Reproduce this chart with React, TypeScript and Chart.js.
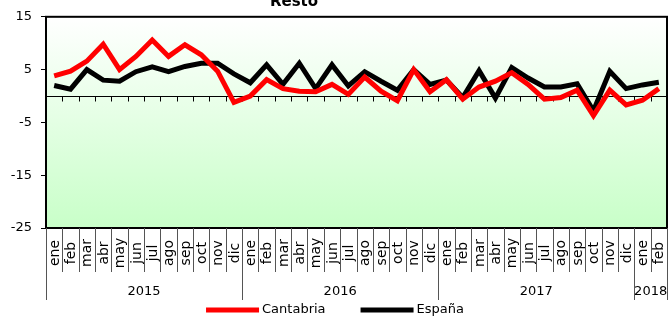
import React, { useEffect, useRef } from "react";
import { Chart, registerables } from "chart.js";

Chart.register(...registerables);

const monthLabels = [
  "ene","feb","mar","abr","may","jun","jul","ago","sep","oct","nov","dic",
  "ene","feb","mar","abr","may","jun","jul","ago","sep","oct","nov","dic",
  "ene","feb","mar","abr","may","jun","jul","ago","sep","oct","nov","dic",
  "ene","feb",
];
const yearLabels = ["2015", "2016", "2017", "2018"];
const yearCounts = [12, 12, 12, 2];

const cantabria = [
  3.8, 4.7, 6.6, 9.8, 5.0, 7.5, 10.6, 7.5, 9.7, 7.8, 4.7, -1.2,
  0.0, 3.1, 1.4, 0.9, 0.8, 2.2, 0.3, 3.6, 0.9, -0.9, 5.0, 0.8,
  3.1, -0.6, 1.7, 2.8, 4.4, 2.2, -0.6, -0.3, 1.1, -3.7, 1.1, -1.7,
  -0.8, 1.4,
];
const espana = [
  2.0, 1.3, 5.0, 3.0, 2.8, 4.6, 5.5, 4.6, 5.6, 6.2, 6.2, 4.2,
  2.5, 5.9, 2.2, 6.2, 1.4, 5.9, 1.9, 4.6, 2.8, 1.1, 5.0, 2.2,
  3.0, -0.3, 4.8, -0.4, 5.4, 3.4, 1.7, 1.7, 2.3, -2.8, 4.7, 1.4,
  2.1, 2.6,
];
const yTicks = [-25, -15, -5, 5, 15];
const seriesNames = ["Cantabria", "España"];
const seriesColors = ["#ff0000", "#000000"];
const titleText = "Resto";

const FONT = "'DejaVu Sans', sans-serif";

const decorPlugin = {
  id: "decor",
  beforeDatasetsDraw(chart: any) {
    const { ctx, chartArea } = chart;
    const { left, right, top, bottom } = chartArea;
    const g = ctx.createLinearGradient(0, top, 0, bottom);
    g.addColorStop(0, "#ffffff");
    g.addColorStop(1, "#c8ffc8");
    ctx.save();
    ctx.fillStyle = g;
    ctx.fillRect(left, top, right - left, bottom - top);
    // zero line with ticks
    const ys = chart.scales.y;
    const xs = chart.scales.x;
    const y0 = Math.round(ys.getPixelForValue(0)) + 0.5;
    ctx.strokeStyle = "#000";
    ctx.lineWidth = 1;
    ctx.beginPath();
    ctx.moveTo(left, y0);
    ctx.lineTo(right, y0);
    const step = xs.getPixelForValue(1) - xs.getPixelForValue(0);
    for (let i = 1; i < monthLabels.length; i++) {
      const bx = Math.round(xs.getPixelForValue(i) - step / 2) + 0.5;
      ctx.moveTo(bx, y0);
      ctx.lineTo(bx, y0 + 5);
    }
    ctx.stroke();
    ctx.restore();
  },
  afterDatasetsDraw(chart: any) {
    const { ctx, chartArea } = chart;
    const { left, right, top, bottom } = chartArea;
    ctx.save();
    ctx.strokeStyle = "#000";
    ctx.lineWidth = 2;
    ctx.strokeRect(left, top, right - left, bottom - top);
    ctx.restore();
  },
  afterDraw(chart: any) {
    const { ctx, chartArea } = chart;
    const { bottom } = chartArea;
    const xs = chart.scales.x;
    const step = xs.getPixelForValue(1) - xs.getPixelForValue(0);
    ctx.save();
    // month labels
    ctx.fillStyle = "#000";
    ctx.font = `14px ${FONT}`;
    ctx.textAlign = "center";
    ctx.textBaseline = "middle";
    monthLabels.forEach((m, i) => {
      const cx = xs.getPixelForValue(i);
      ctx.save();
      ctx.translate(cx + 1, 253);
      ctx.rotate(-Math.PI / 2);
      ctx.fillText(m, 0, 0);
      ctx.restore();
    });
    // separators
    const yearBounds = new Set<number>();
    let acc = 0;
    yearBounds.add(0);
    yearCounts.forEach((c) => {
      acc += c;
      yearBounds.add(acc);
    });
    ctx.strokeStyle = "#555";
    ctx.lineWidth = 1;
    ctx.beginPath();
    for (let b = 0; b <= monthLabels.length; b++) {
      const bx = Math.round(xs.getPixelForValue(b) - step / 2) + 0.5;
      ctx.moveTo(bx, bottom);
      ctx.lineTo(bx, yearBounds.has(b) ? 300 : 272);
    }
    ctx.stroke();
    // year labels
    ctx.font = `13px ${FONT}`;
    acc = 0;
    yearLabels.forEach((yl, k) => {
      const start = acc;
      const end = acc + yearCounts[k] - 1;
      acc += yearCounts[k];
      const cx = (xs.getPixelForValue(start) + xs.getPixelForValue(end)) / 2;
      ctx.fillText(yl, cx, 292);
    });
    // title
    ctx.font = `bold 15px ${FONT}`;
    ctx.textBaseline = "alphabetic";
    ctx.fillText(titleText, 294, 6);
    // legend
    ctx.font = `13px ${FONT}`;
    ctx.textBaseline = "middle";
    ctx.textAlign = "left";
    const sample = 53;
    const gap = 3;
    const itemGap = 35;
    const widths = seriesNames.map((n) => sample + gap + ctx.measureText(n).width);
    const total = widths.reduce((a, b) => a + b, 0) + itemGap * (widths.length - 1);
    let lx = 335 - total / 2;
    const ly = 310;
    seriesNames.forEach((n, i) => {
      ctx.strokeStyle = seriesColors[i];
      ctx.lineWidth = 5;
      ctx.beginPath();
      ctx.moveTo(lx, ly);
      ctx.lineTo(lx + sample, ly);
      ctx.stroke();
      ctx.fillStyle = "#000";
      ctx.fillText(n, lx + sample + gap, ly);
      lx += widths[i] + itemGap;
    });
    ctx.restore();
  },
};

export default function App() {
  const ref = useRef<HTMLCanvasElement | null>(null);
  useEffect(() => {
    if (!ref.current) return;
    const chart = new Chart(ref.current, {
      type: "line",
      data: {
        labels: monthLabels,
        datasets: [
          {
            label: seriesNames[0],
            data: cantabria,
            borderColor: seriesColors[0],
            backgroundColor: seriesColors[0],
            borderWidth: 5,
            pointRadius: 0,
            tension: 0,
          },
          {
            label: seriesNames[1],
            data: espana,
            borderColor: seriesColors[1],
            backgroundColor: seriesColors[1],
            borderWidth: 5,
            pointRadius: 0,
            tension: 0,
          },
        ],
      },
      options: {
        animation: false,
        responsive: false,
        devicePixelRatio: 1,
        layout: { padding: { left: 0, right: 3, top: 15, bottom: 88 } },
        plugins: {
          legend: { display: false },
          title: { display: false },
          tooltip: { enabled: false },
        },
        scales: {
          x: {
            type: "category",
            offset: true,
            display: false,
          },
          y: {
            min: -25,
            max: 15,
            afterBuildTicks: (s: any) => {
              s.ticks = yTicks.map((v) => ({ value: v }));
            },
            afterFit: (s: any) => {
              s.width = 46;
            },
            ticks: {
              color: "#000",
              padding: 9,
              font: { family: FONT, size: 13 },
            },
            grid: {
              drawOnChartArea: false,
              drawTicks: true,
              tickLength: 5,
              color: "#000",
            },
            border: { display: true, color: "#000", width: 2 },
          },
        },
      } as any,
      plugins: [decorPlugin],
    });
    return () => chart.destroy();
  }, []);
  return (
    <div style={{ position: "fixed", left: 0, top: 0, width: 670, height: 316, background: "#fff" }}>
      <canvas ref={ref} width={670} height={316} style={{ display: "block", width: 670, height: 316 }} />
    </div>
  );
}
